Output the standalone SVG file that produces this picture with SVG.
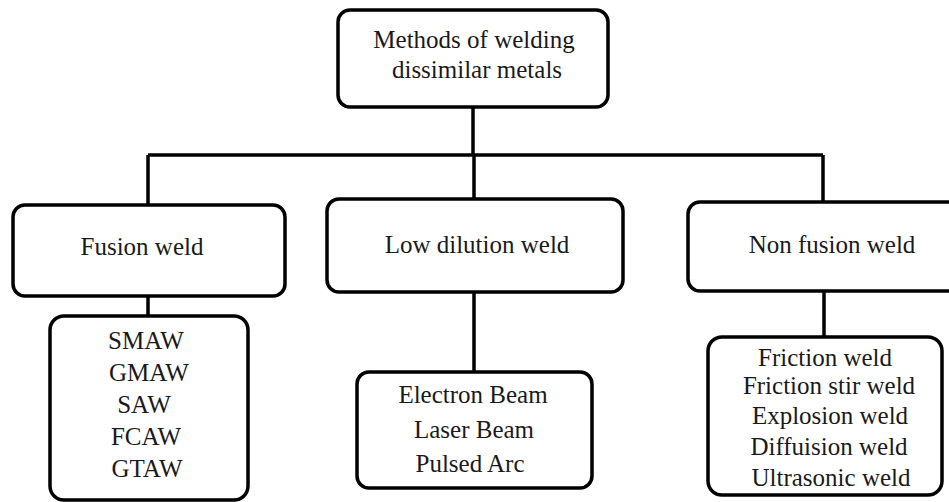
<svg xmlns="http://www.w3.org/2000/svg" width="949" height="502" viewBox="0 0 949 502">
<style>
.box{fill:#fff;stroke:#000;stroke-width:3.5}
.t{font-family:"Liberation Serif","Times New Roman",serif;font-size:25px;fill:#1a1a1a;text-anchor:middle}
.c{fill:none;stroke:#000;stroke-width:3.5}
</style>
<rect width="949" height="502" fill="#fff"/>
<g id="connectors">
<path class="c" d="M473 107V155M148 155H823M148 155V205M474 155V199M823 155V202M148 296V316M474 292V372M824 291V337"/>
</g>
<g id="root">
<rect class="box" x="338" y="10" width="270" height="97" rx="12"/>
<text class="t" x="474" y="48">Methods of welding</text>
<text class="t" x="477" y="78">dissimilar metals</text>
</g>
<g id="fusion">
<rect class="box" x="13" y="205" width="272" height="91" rx="12"/>
<text class="t" x="142" y="255">Fusion weld</text>
</g>
<g id="fusion-list">
<rect class="box" x="50" y="316" width="198" height="184" rx="14"/>
<text class="t" x="146" y="349">SMAW</text>
<text class="t" x="149" y="381">GMAW</text>
<text class="t" x="144" y="413">SAW</text>
<text class="t" x="146" y="445">FCAW</text>
<text class="t" x="147" y="477">GTAW</text>
</g>
<g id="low">
<rect class="box" x="327" y="199" width="296" height="93" rx="12"/>
<text class="t" x="477" y="253">Low dilution weld</text>
</g>
<g id="low-list">
<rect class="box" x="357" y="372" width="235" height="116" rx="12"/>
<text class="t" x="473" y="403">Electron Beam</text>
<text class="t" x="474" y="438">Laser Beam</text>
<text class="t" x="470" y="472">Pulsed Arc</text>
</g>
<g id="nonfusion">
<rect class="box" x="688" y="202" width="275" height="89" rx="12"/>
<text class="t" x="832" y="253">Non fusion weld</text>
</g>
<g id="nonfusion-list">
<rect class="box" x="708" y="337" width="234" height="158" rx="14"/>
<text class="t" x="825" y="366">Friction weld</text>
<text class="t" x="829" y="394">Friction stir weld</text>
<text class="t" x="830" y="424">Explosion weld</text>
<text class="t" x="829" y="455">Diffuision weld</text>
<text class="t" x="831" y="486">Ultrasonic weld</text>
</g>
</svg>
